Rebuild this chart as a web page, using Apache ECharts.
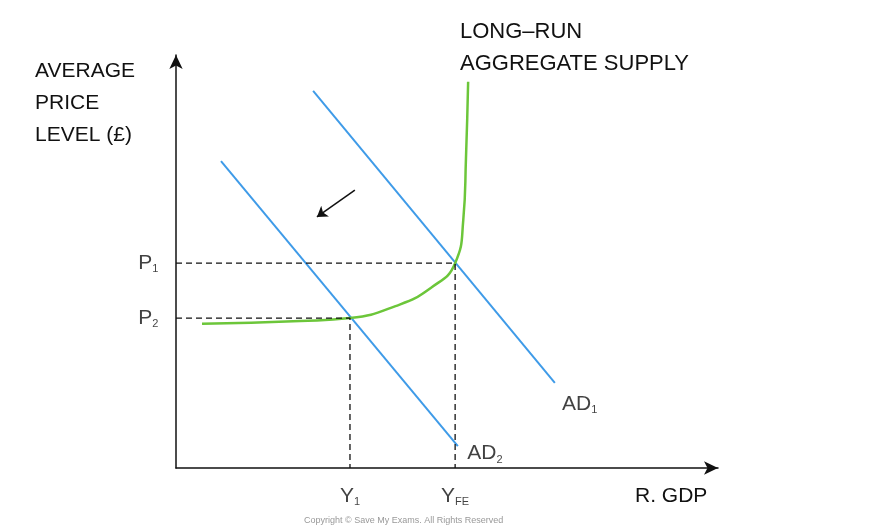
<!DOCTYPE html>
<html><head><meta charset="utf-8">
<script src="https://cdn.jsdelivr.net/npm/echarts@6/dist/echarts.min.js"></script>
<style>html,body{margin:0;background:#fff}#main{width:883px;height:531px}</style>
</head><body><div id="main"></div>
<script>
// AD and LRAS data (x = real GDP, y = price level, 0..100 scale)
const ad1 = [[25.3, 91.3], [69.9, 20.6]];
const ad2 = [[8.3, 74.3], [52.0, 5.3]];
const lras = [[4.8, 34.9], [22.9, 35.6], [32.1, 36.3], [40.5, 39.2],
  [47.0, 43.6], [51.5, 49.6], [53.0, 60.0], [53.5, 75.0], [53.9, 93.5]];
const p1 = 49.6, p2 = 36.3, y1 = 32.1, yfe = 51.5;
const shiftArrow = [[33.0, 67.3], [26.0, 60.8]];

const chart = echarts.init(document.getElementById("main"));
const font = "Liberation Sans";
const dash = { color: "#111", type: [6, 4], width: 1.3 };
const sub = { fontSize: 11, padding: [12, 0, 0, 0] };

chart.setOption({
  animation: false,
  grid: { left: 176, right: 165, top: 55, bottom: 63 },
  xAxis: {
    type: "value", min: 0, max: 100, splitLine: { show: false }, axisTick: { show: false }, axisLabel: { show: false },
    axisLine: { lineStyle: { color: "#111", width: 1.5 }, symbol: ["none", "arrow"], symbolSize: [10, 14] }
  },
  yAxis: {
    type: "value", min: 0, max: 100, splitLine: { show: false }, axisTick: { show: false }, axisLabel: { show: false },
    axisLine: { lineStyle: { color: "#111", width: 1.5 }, symbol: ["none", "arrow"], symbolSize: [10, 14] }
  },
  series: [
    { type: "line", data: ad1, symbol: "none", lineStyle: { color: "#3f9be8", width: 2 } },
    { type: "line", data: ad2, symbol: "none", lineStyle: { color: "#3f9be8", width: 2 } },
    { type: "line", data: lras, smooth: 0.5, symbol: "none", lineStyle: { color: "#6cc63a", width: 2.5 } },
    { type: "line", data: [[0, p1], [yfe, p1], [yfe, 0]], symbol: "none", lineStyle: dash },
    { type: "line", data: [[0, p2], [y1, p2], [y1, 0]], symbol: "none", lineStyle: dash },
    { type: "lines", coordinateSystem: "cartesian2d", data: [{ coords: shiftArrow }],
      symbol: ["none", "arrow"], symbolSize: 10, lineStyle: { color: "#111", width: 1.5, opacity: 1 } },
    {
      type: "scatter", symbolSize: 0, clip: false, data: [
        { value: [-2.5, p1], label: { formatter: "P{s|1}", position: "left" } },
        { value: [-2.5, p2], label: { formatter: "P{s|2}", position: "left" } },
        { value: [y1, -3], label: { formatter: "Y{s|1}", position: "bottom" } },
        { value: [yfe, -3], label: { formatter: "Y{s|FE}", position: "bottom" } },
        { value: [70.5, 15.5], label: { formatter: "AD{s|1}", position: "right" } },
        { value: [53, 3.5], label: { formatter: "AD{s|2}", position: "right" } }
      ],
      label: { show: true, color: "#111", fontFamily: font, fontSize: 21, distance: 4, rich: { s: sub } }
    }
  ],
  graphic: [
    { type: "text", left: 35, top: 55, style: { text: "AVERAGE\nPRICE\nLEVEL (£)", font: "21px " + font, fill: "#111", lineHeight: 32 } },
    { type: "text", left: 460, top: 16, style: { text: "LONG–RUN\nAGGREGATE SUPPLY", font: "22px " + font, fill: "#111", lineHeight: 32 } },
    { type: "text", left: 635, top: 486, style: { text: "R. GDP", font: "21px " + font, fill: "#111" } },
    { type: "text", left: 304, top: 516, style: { text: "Copyright © Save My Exams. All Rights Reserved", font: "9px " + font, fill: "#999" } }
  ]
});
</script></body></html>
